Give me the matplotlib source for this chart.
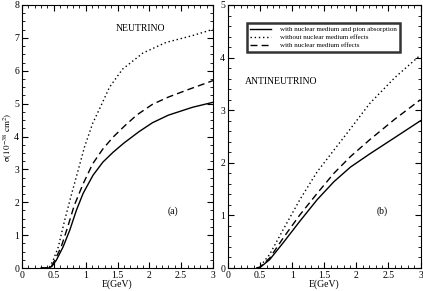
import numpy as np
import matplotlib
matplotlib.use('Agg')
import matplotlib.pyplot as plt
from matplotlib.ticker import MultipleLocator

plt.rcParams['font.family'] = 'Liberation Serif'
plt.rcParams['mathtext.fontset'] = 'stix'

# neutrino panel (a)
e_nu_nomed = [0.3, 0.4, 0.44, 0.49, 0.57, 0.67, 0.78, 0.88, 0.98, 1.11, 1.22, 1.375, 1.58, 1.9, 2.26, 2.68, 3.0]
nu_nomed = [0.0, 0.0, 0.05, 0.24, 0.64, 1.45, 2.26, 2.96, 3.67, 4.4, 4.85, 5.5, 6.05, 6.54, 6.86, 7.07, 7.26]

e_nu_med = [0.3, 0.42, 0.46, 0.51, 0.615, 0.72, 0.82, 0.96, 1.11, 1.27, 1.43, 1.6, 1.8, 2.05, 2.3, 2.6, 3.0]
nu_med = [0.0, 0.0, 0.05, 0.22, 0.64, 1.26, 1.9, 2.56, 3.17, 3.62, 3.98, 4.3, 4.65, 4.98, 5.2, 5.42, 5.70]

e_nu_abs = [0.3, 0.42, 0.47, 0.54, 0.645, 0.75, 0.855, 0.96, 1.115, 1.27, 1.43, 1.6, 1.84, 2.05, 2.3, 2.68, 3.0]
nu_abs = [0.0, 0.0, 0.05, 0.24, 0.64, 1.15, 1.76, 2.27, 2.82, 3.22, 3.52, 3.8, 4.15, 4.42, 4.65, 4.89, 5.04]

# antineutrino panel (b)
e_anu = [0.45, 0.5, 0.65, 0.86, 1.12, 1.39, 1.65, 1.91, 2.21, 2.6, 3.0]
anu_nomed = [0.0, 0.03, 0.26, 0.73, 1.30, 1.83, 2.24, 2.65, 3.13, 3.62, 4.05]
anu_med = [0.0, 0.02, 0.19, 0.57, 1.01, 1.42, 1.80, 2.12, 2.44, 2.83, 3.2]
anu_abs = [0.0, 0.01, 0.16, 0.48, 0.89, 1.30, 1.64, 1.92, 2.17, 2.48, 2.8]

labels = ['with nuclear medium and pion absorption',
          'without nuclear medium effects',
          'with nuclear medium effects']

fig = plt.figure(figsize=(4.23, 2.91), dpi=100)
ax1 = fig.add_axes([22/423, 23/291, 191/423, 263/291])
ax2 = fig.add_axes([228/423, 23/291, 192.5/423, 263/291])

lw = 1.0
ax1.plot(e_nu_abs, nu_abs, 'k-', lw=lw)
ax1.plot(e_nu_nomed, nu_nomed, 'k', ls=(0, (1, 2)), lw=lw)
ax1.plot(e_nu_med, nu_med, 'k', ls=(0, (5, 3)), lw=lw)

l1, = ax2.plot(e_anu, anu_abs, 'k-', lw=lw)
l2, = ax2.plot(e_anu, anu_nomed, 'k', ls=(0, (1, 2)), lw=lw)
l3, = ax2.plot(e_anu, anu_med, 'k', ls=(0, (5, 3)), lw=lw)

for ax, ymax, yminor in [(ax1, 8, 0.25), (ax2, 5, 0.2)]:
    ax.set_xlim(0, 3)
    ax.set_ylim(0, ymax)
    ax.xaxis.set_major_locator(MultipleLocator(0.5))
    ax.xaxis.set_minor_locator(MultipleLocator(0.1))
    ax.yaxis.set_major_locator(MultipleLocator(1))
    ax.yaxis.set_minor_locator(MultipleLocator(yminor))
    ax.tick_params(which='both', direction='in', top=True, right=True, labelsize=7, pad=2)
    ax.tick_params(which='major', length=4, width=0.8)
    ax.tick_params(which='minor', length=2, width=0.6)
    ax.set_xticks([0, 0.5, 1, 1.5, 2, 2.5, 3])
    ax.set_xticklabels(['0', '0.5', '1', '1.5', '2', '2.5', '3'])
    ax.set_xlabel('E(GeV)', fontsize=7, labelpad=0)
    for s in ax.spines.values():
        s.set_linewidth(0.8)

fig.text(8/423, 0.53, r'$\mathrm{\sigma(10^{-38}\ cm^{2})}$', fontsize=6.5,
         rotation=90, ha='center', va='center')

ax1.text(0.49, 0.91, 'NEUTRINO', transform=ax1.transAxes, fontsize=7, va='center')
ax1.text(0.76, 0.215, '(a)', transform=ax1.transAxes, fontsize=7, va='center')
ax2.text(0.09, 0.71, 'ANTINEUTRINO', transform=ax2.transAxes, fontsize=7, va='center')
ax2.text(0.77, 0.215, '(b)', transform=ax2.transAxes, fontsize=7, va='center')

leg = ax2.legend([l1, l2, l3], labels, loc='upper left', bbox_to_anchor=(0.08, 0.945),
                 fontsize=5, frameon=True, fancybox=False, handlelength=3,
                 borderpad=0.5, labelspacing=0.3, handletextpad=1.2)
leg.get_frame().set_edgecolor('black')
leg.get_frame().set_linewidth(1.8)

fig.savefig('out.png', dpi=100)
